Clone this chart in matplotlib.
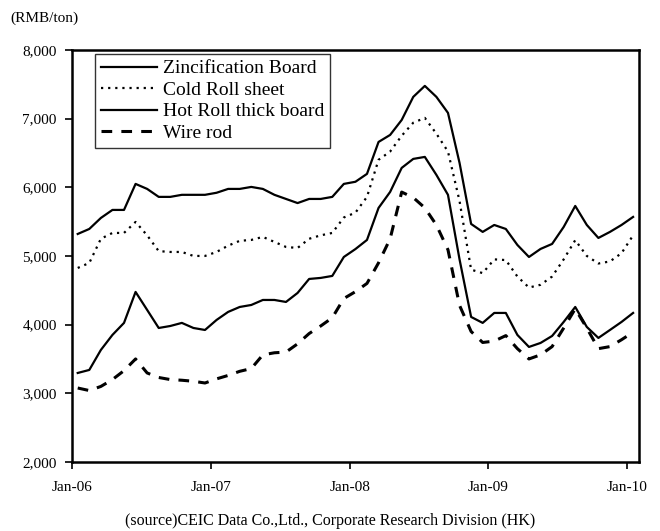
import numpy as np
import matplotlib
matplotlib.use("Agg")
import matplotlib.pyplot as plt
from matplotlib.ticker import FuncFormatter

# monthly prices, Jan-06 .. Jan-10 (RMB/ton)
zinc = [5320, 5393, 5553, 5670, 5670, 6049, 5976, 5860, 5860, 5890, 5890, 5890,
        5920, 5976, 5976, 6005, 5976, 5890, 5830, 5770, 5830, 5830, 5860, 6049,
        6080, 6195, 6660, 6762, 6980, 7316, 7476, 7316, 7083, 6355, 5466, 5350,
        5451, 5393, 5160, 4985, 5102, 5175, 5422, 5728, 5451, 5262, 5350, 5451,
        5568]
cold = [4825, 4898, 5250, 5335, 5335, 5495, 5300, 5070, 5058, 5058, 5000, 5000,
        5058, 5150, 5220, 5233, 5277, 5204, 5131, 5116, 5250, 5300, 5335, 5560,
        5630, 5860, 6400, 6520, 6750, 6940, 7010, 6780, 6520, 5800, 4800, 4750,
        4950, 4940, 4700, 4540, 4580, 4700, 4950, 5230, 5000, 4890, 4920, 5040,
        5300]
hot = [3296, 3340, 3631, 3850, 4025, 4476, 4214, 3951, 3980, 4025, 3951, 3922,
       4068, 4185, 4257, 4286, 4359, 4359, 4330, 4461, 4665, 4680, 4709, 4985,
       5100, 5233, 5699, 5932, 6282, 6413, 6442, 6180, 5890, 4950, 4112, 4025,
       4170, 4170, 3850, 3675, 3733, 3835, 4039, 4257, 3966, 3806, 3922, 4039,
       4170]
wire = [3077, 3040, 3100, 3200, 3330, 3500, 3296, 3230, 3200, 3190, 3175, 3150,
        3210, 3260, 3320, 3360, 3560, 3590, 3600, 3720, 3870, 3980, 4100, 4380,
        4480, 4600, 4900, 5250, 5930, 5850, 5700, 5450, 5090, 4280, 3900, 3740,
        3760, 3840, 3650, 3500, 3560, 3680, 3950, 4230, 3950, 3650, 3680, 3780,
        3890]
tick_labels = ["Jan-06", "Jan-07", "Jan-08", "Jan-09", "Jan-10"]

plt.rcParams['font.family'] = ['Liberation Serif', 'DejaVu Serif']

fig = plt.figure(figsize=(6.6, 5.31), dpi=100)
ax = fig.add_axes([0.109, 0.130, 0.859, 0.776])

x = np.arange(len(zinc)) + 0.5
ax.plot(x, zinc, color='black', lw=1.6, label='Zincification Board')
ax.plot(x, cold, color='black', lw=1.6, ls=(0, (1, 2.2)), label='Cold Roll sheet')
ax.plot(x, hot, color='black', lw=1.6, label='Hot Roll thick board')
ax.plot(x, wire, color='black', lw=2.2, ls=(0, (3.5, 3)), label='Wire rod')

ax.set_xlim(0, 49)
ax.set_ylim(2000, 8000)
ax.set_xticks(np.arange(0, 49, 12))
ax.set_xticklabels(tick_labels)
ax.set_yticks(np.arange(2000, 8001, 1000))
ax.yaxis.set_major_formatter(FuncFormatter(lambda v, p: f"{int(v):,}"))
ax.tick_params(direction='out', length=5, width=1.2, labelsize=11)
ax.tick_params(axis='x', pad=9)
ax.tick_params(axis='y', pad=6)
for s in ax.spines.values():
    s.set_linewidth(1.8)

leg = ax.legend(loc='upper left', bbox_to_anchor=(0.0406, 0.99), borderaxespad=0,
                fontsize=14, handlelength=2.9, frameon=True, fancybox=False,
                borderpad=0.3, labelspacing=0.2, handletextpad=0.3)
leg.get_frame().set_edgecolor('black')
leg.get_frame().set_linewidth(1.0)

fig.text(0.015, 0.965, "(RMB/ton)", fontsize=11, ha='left', va='center')
fig.text(0.5, 0.018, "(source)CEIC Data Co.,Ltd., Corporate Research Division (HK)",
         fontsize=11.5, ha='center', va='center')

fig.savefig("out.png", dpi=100)
